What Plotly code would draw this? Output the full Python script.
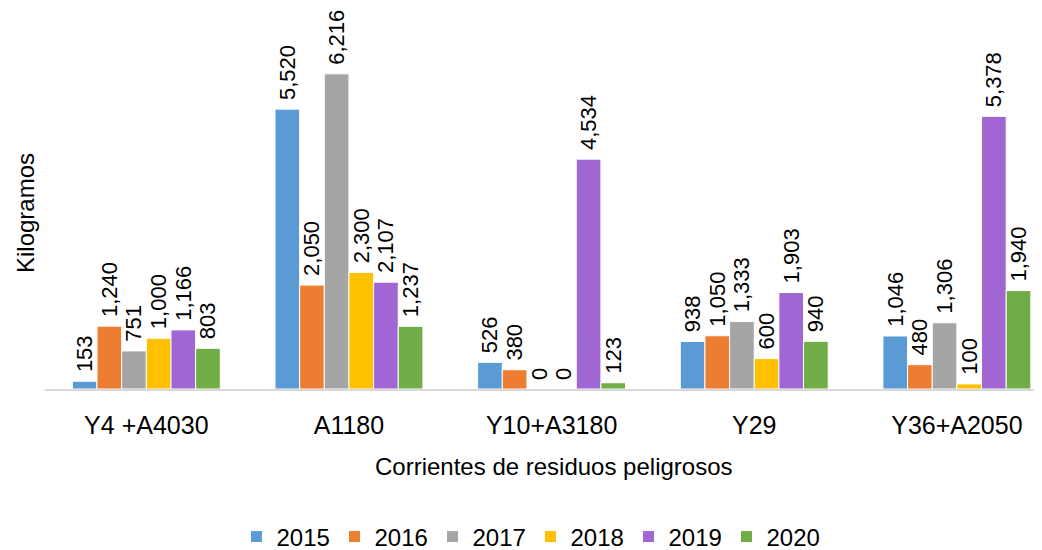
import plotly.graph_objects as go

categories = ["Y4 +A4030", "A1180", "Y10+A3180", "Y29", "Y36+A2050"]
years = ["2015", "2016", "2017", "2018", "2019", "2020"]
v2015 = [153, 5520, 526, 938, 1046]
v2016 = [1240, 2050, 380, 1050, 480]
v2017 = [751, 6216, 0, 1333, 1306]
v2018 = [1000, 2300, 0, 600, 100]
v2019 = [1166, 2107, 4534, 1903, 5378]
v2020 = [803, 1237, 123, 940, 1940]
series = [v2015, v2016, v2017, v2018, v2019, v2020]
colors = ["#5B9BD5", "#ED7D31", "#A5A5A5", "#FFC000", "#A066D3", "#70AD47"]

FONT = "Liberation Sans Narrow, Arial Narrow, Liberation Sans, Arial, sans-serif"

# page body adds an 8px offset; plot area on screen spans x 45..1042, y 8..389
fig = go.Figure()
for name, vals, col in zip(years, series, colors):
    fig.add_trace(go.Bar(
        x=categories, y=vals, name=name,
        marker=dict(color=col, line=dict(color="white", width=1)),
        texttemplate="\u00a0%{y:,}", textposition="outside", textangle=-90,
        constraintext="none", cliponaxis=False,
        textfont=dict(family=FONT, size=22, color="black"),
    ))

fig.update_layout(
    width=1042, height=550,
    margin=dict(l=37, r=8, t=0, b=169, autoexpand=False),
    barmode="group", bargap=0.27, bargroupgap=0,
    plot_bgcolor="white", paper_bgcolor="white",
    font=dict(family=FONT, size=25, color="black"),
    showlegend=True,
    legend=dict(orientation="h", xref="container", yref="container",
                x=0.5014, xanchor="center", y=0.0382, yanchor="middle",
                font=dict(family=FONT, size=24, color="black"),
                entrywidth=53, entrywidthmode="pixels", itemwidth=30),
    xaxis=dict(range=[-0.5, 4.42], showline=True, linecolor="#D9D9D9", linewidth=2,
               ticks="", showgrid=False, tickfont=dict(family=FONT, size=25),
               ticklabelstandoff=13),
    yaxis=dict(range=[0, 7515], visible=False, showgrid=False),
    annotations=[
        dict(text="Kilogramos", xref="paper", yref="paper", x=-20/997, y=(389-213)/381,
             xanchor="center", yanchor="middle", textangle=-90, showarrow=False,
             font=dict(family=FONT, size=24, color="black")),
        dict(text="Corrientes de residuos peligrosos", xref="paper", yref="paper",
             x=(554-45)/997, y=-(466-389)/381, xanchor="center", yanchor="middle",
             showarrow=False, font=dict(family=FONT, size=24, color="black")),
    ],
)

fig.write_html("out.html")
